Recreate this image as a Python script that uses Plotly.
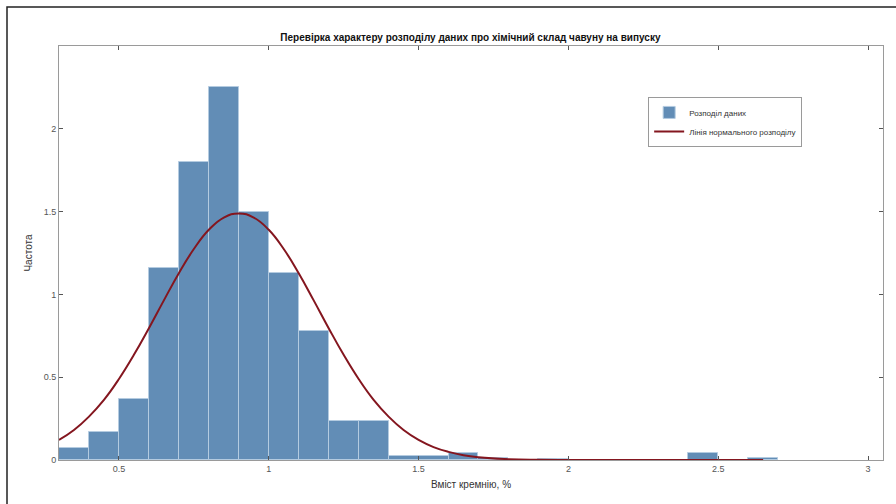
import plotly.graph_objects as go

# Histogram bins (left edges, width 0.1) and pdf-normalised heights
bin_left = [0.3, 0.4, 0.5, 0.6, 0.7, 0.8, 0.9, 1.0, 1.1, 1.2, 1.3, 1.4, 1.5, 1.6, 1.7,
            1.8, 1.9, 2.0, 2.1, 2.2, 2.3, 2.4, 2.5, 2.6]
bin_height = [0.07, 0.17, 0.37, 1.16, 1.80, 2.25, 1.50, 1.13, 0.78, 0.235, 0.235, 0.025, 0.025, 0.04, 0.015,
              0.0, 0.008, 0.0, 0.0, 0.0, 0.0, 0.04, 0.0, 0.012]
bin_width = 0.1

# Normal distribution line
curve_x = [0.3, 0.35, 0.4, 0.45, 0.5, 0.55, 0.6, 0.65, 0.7, 0.75, 0.8, 0.85, 0.9, 0.95, 1.0, 1.05,
           1.1, 1.15, 1.2, 1.25, 1.3, 1.35, 1.4, 1.45, 1.5, 1.55, 1.6, 1.65, 1.7, 1.8, 1.9, 2.0,
           2.2, 2.4, 2.65]
curve_y = [0.121, 0.181, 0.262, 0.363, 0.489, 0.635, 0.796, 0.964, 1.128, 1.274, 1.390, 1.464, 1.489, 1.464,
           1.390, 1.274, 1.128, 0.964, 0.796, 0.635, 0.489, 0.363, 0.262, 0.181, 0.121, 0.078, 0.049, 0.029,
           0.017, 0.005, 0.001, 0.0, 0.0, 0.0, 0.0]

x_ticks = [0.5, 1, 1.5, 2, 2.5, 3]
x_tick_text = ["0.5", "1", "1.5", "2", "2.5", "3"]
y_ticks = [0, 0.5, 1, 1.5, 2]
y_tick_text = ["0", "0.5", "1", "1.5", "2"]

title_text = "Перевірка характеру розподілу даних про хімічний склад чавуну на випуску"
x_title = "Вміст кремнію, %"
y_title = "Частота"
legend_hist = "Розподіл даних"
legend_line = "Лінія нормального розподілу"

bin_center = [b + bin_width / 2 for b in bin_left]

fig = go.Figure()
fig.add_trace(go.Bar(
    x=bin_center, y=bin_height, width=bin_width,
    marker=dict(color="#628db6", line=dict(color="#b4cbe0", width=1)),
    name=legend_hist,
))
fig.add_trace(go.Scatter(
    x=curve_x, y=curve_y, mode="lines",
    line=dict(color="#84161f", width=2, shape="spline", smoothing=1.3),
    name=legend_line,
))

font_family = "Liberation Sans, Arial, sans-serif"
axis_common = dict(
    showline=True, linecolor="#9a9a9a", linewidth=1, mirror="ticks",
    ticks="inside", ticklen=4, tickcolor="#555555", tickwidth=1,
    showgrid=False, zeroline=False,
    tickfont=dict(size=9, color="#555555", family=font_family),
)

fig.update_layout(
    width=896, height=504,
    margin=dict(l=59, r=13, t=46, b=44),
    paper_bgcolor="white", plot_bgcolor="white",
    bargap=0,
    title=dict(text="<b>" + title_text + "</b>", x=0.525, xanchor="center", y=0.925, yanchor="middle",
               font=dict(size=10, color="#111111", family=font_family)),
    xaxis=dict(range=[0.3, 3.05], tickvals=x_ticks, ticktext=x_tick_text,
               title=dict(text=x_title, font=dict(size=10, color="#333333", family=font_family), standoff=8),
               **axis_common),
    yaxis=dict(range=[0, 2.5], tickvals=y_ticks, ticktext=y_tick_text,
               title=dict(text=y_title, font=dict(size=10, color="#333333", family=font_family), standoff=9),
               **axis_common),
    legend=dict(x=0.715, y=0.877, xanchor="left", yanchor="top",
                bgcolor="white", bordercolor="#9a9a9a", borderwidth=1,
                font=dict(size=8, color="#333333", family=font_family),
                tracegroupgap=0, itemwidth=30),
    showlegend=True,
    shapes=[dict(type="rect", xref="paper", yref="paper",
                 x0=(7 - 59) / 824, x1=(905 - 59) / 824,
                 y0=(460 - 515) / 414, y1=(460 - 7) / 414,
                 line=dict(color="#222222", width=1.5), fillcolor="rgba(0,0,0,0)", layer="below")],
)

fig.write_html("out.html", config={"displayModeBar": False},
               post_script="document.body.style.margin='0';document.body.style.overflow='hidden';")
